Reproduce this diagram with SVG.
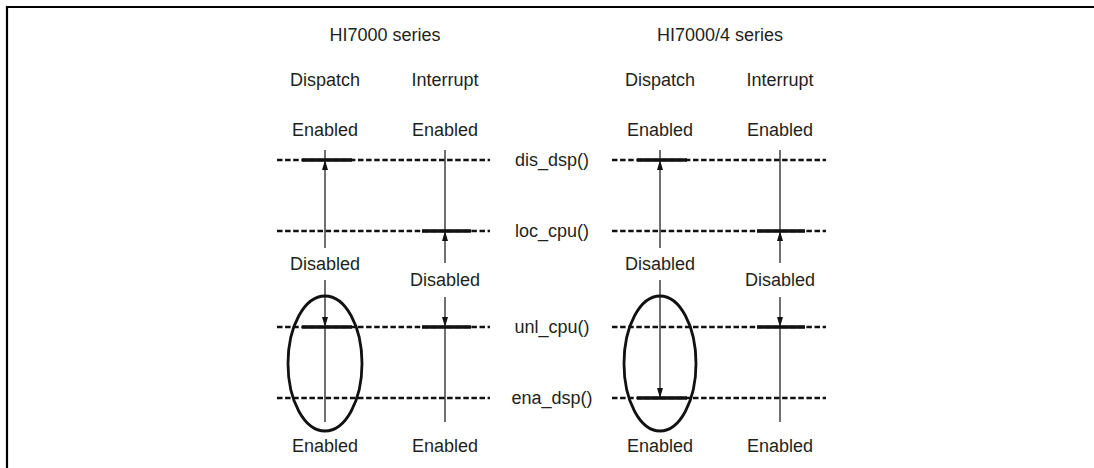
<svg xmlns="http://www.w3.org/2000/svg" width="1094" height="468" viewBox="0 0 1094 468">
<style>
text{font-family:"Liberation Sans",Arial,Helvetica,sans-serif;font-size:18px;fill:#231f20;text-anchor:middle}
.dash{stroke:#111;stroke-width:2.4;stroke-dasharray:5.5 2.6;fill:none}
.thick{stroke:#111;stroke-width:3.4;fill:none}
.ln{stroke:#111;stroke-width:1.2;fill:none}
.arr{stroke:#111;stroke-width:1.2;fill:none;marker-end:url(#ah)}
.ell{stroke:#111;stroke-width:2.8;fill:none}
</style>
<defs>
<marker id="ah" markerUnits="userSpaceOnUse" markerWidth="10" markerHeight="6" viewBox="0 0 10 6" refX="10" refY="3" orient="auto">
<path d="M0,0 L10,3 L0,6 z" fill="#111"/>
</marker>
</defs>
<rect width="1094" height="468" fill="#fff"/>
<g id="frame"><path d="M7,470 V7 H1096" stroke="#000" stroke-width="2.2" fill="none"/></g>

<g id="levels">
<line class="dash" x1="277" y1="160" x2="490" y2="160"/>
<line class="dash" x1="277" y1="231" x2="490" y2="231"/>
<line class="dash" x1="277" y1="327" x2="490" y2="327"/>
<line class="dash" x1="277" y1="398" x2="490" y2="398"/>
<line class="dash" x1="612" y1="160" x2="826" y2="160"/>
<line class="dash" x1="612" y1="231" x2="826" y2="231"/>
<line class="dash" x1="612" y1="327" x2="826" y2="327"/>
<line class="dash" x1="612" y1="398" x2="826" y2="398"/>
<line class="thick" x1="302" y1="160" x2="352" y2="160"/>
<line class="thick" x1="422" y1="231" x2="471" y2="231"/>
<line class="thick" x1="302" y1="327" x2="352" y2="327"/>
<line class="thick" x1="422" y1="327" x2="471" y2="327"/>
<line class="thick" x1="637" y1="160" x2="687" y2="160"/>
<line class="thick" x1="757" y1="231" x2="805" y2="231"/>
<line class="thick" x1="757" y1="327" x2="805" y2="327"/>
<line class="thick" x1="637" y1="398" x2="687" y2="398"/>
</g>

<g id="calls">
<text x="552" y="166">dis_dsp()</text>
<text x="552" y="237">loc_cpu()</text>
<text x="552" y="333">unl_cpu()</text>
<text x="552" y="404">ena_dsp()</text>
</g>

<g id="hi7000">
<text x="385" y="41">HI7000 series</text>
<text x="325" y="86">Dispatch</text>
<text x="445" y="86">Interrupt</text>
<text x="325" y="136">Enabled</text>
<text x="445" y="136">Enabled</text>
<text x="325" y="270">Disabled</text>
<text x="445" y="286">Disabled</text>
<text x="325" y="452">Enabled</text>
<text x="445" y="452">Enabled</text>
<ellipse class="ell" cx="325" cy="363.5" rx="37" ry="67.5"/>
</g>

<g id="hi7000-4">
<text x="720" y="41">HI7000/4 series</text>
<text x="660" y="86">Dispatch</text>
<text x="780" y="86">Interrupt</text>
<text x="660" y="136">Enabled</text>
<text x="780" y="136">Enabled</text>
<text x="660" y="270">Disabled</text>
<text x="780" y="286">Disabled</text>
<text x="660" y="452">Enabled</text>
<text x="780" y="452">Enabled</text>
<ellipse class="ell" cx="660" cy="363.5" rx="36" ry="67.5"/>
</g>

<g id="connectors">
<line class="arr" x1="325" y1="248" x2="325" y2="160"/>
<line class="ln" x1="325" y1="161" x2="325" y2="150"/>
<line class="arr" x1="325" y1="280" x2="325" y2="327"/>
<line class="ln" x1="325" y1="326" x2="325" y2="422"/>
<line class="ln" x1="445" y1="150" x2="445" y2="231"/>
<line class="arr" x1="445" y1="263" x2="445" y2="231"/>
<line class="arr" x1="445" y1="297" x2="445" y2="327"/>
<line class="ln" x1="445" y1="326" x2="445" y2="422"/>

<line class="arr" x1="660" y1="248" x2="660" y2="160"/>
<line class="ln" x1="660" y1="161" x2="660" y2="150"/>
<line class="arr" x1="660" y1="280" x2="660" y2="398"/>
<line class="ln" x1="780" y1="150" x2="780" y2="231"/>
<line class="arr" x1="780" y1="263" x2="780" y2="231"/>
<line class="arr" x1="780" y1="297" x2="780" y2="327"/>
<line class="ln" x1="780" y1="326" x2="780" y2="422"/>
</g>
</svg>
